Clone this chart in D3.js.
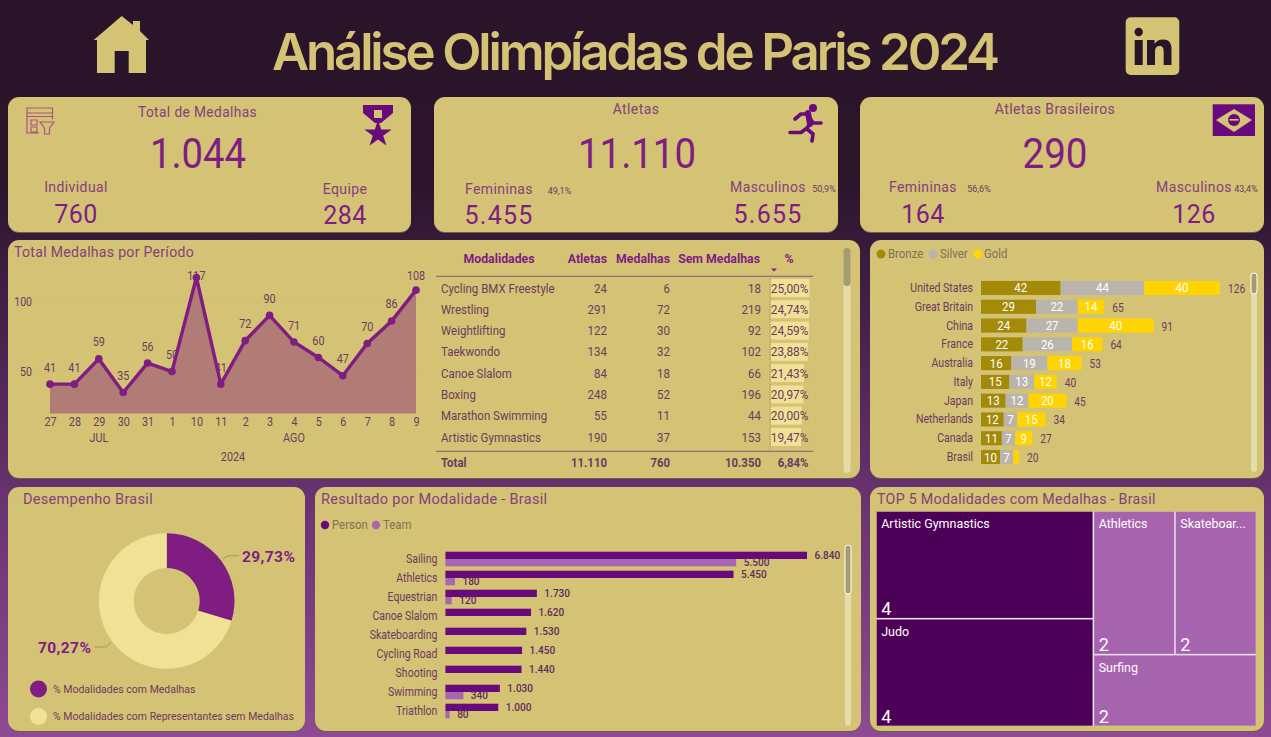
<!DOCTYPE html>
<html lang="pt-BR"><head><meta charset="utf-8">
<script src="https://cdnjs.cloudflare.com/ajax/libs/d3/7.8.5/d3.min.js"></script>
<style>html,body{margin:0;padding:0;overflow:hidden;background:#2a1429}svg{display:block}text{font-family:Roboto,sans-serif}</style>
</head><body><svg id="c" width="1271" height="737"></svg>
<script>
// ---- data ----
const dayLabels=["27","28","29","30","31","1","10","11","2","3","4","5","6","7","8","9"];
const dayMedals=[41,41,59,35,56,50,117,41,72,90,71,60,47,70,86,108];
const tableHeaders=["Modalidades","Atletas","Medalhas","Sem Medalhas","%"];
const sports=["Cycling BMX Freestyle","Wrestling","Weightlifting","Taekwondo","Canoe Slalom","Boxing","Marathon Swimming","Artistic Gymnastics"];
const sportAthletes=[24,291,122,134,84,248,55,190];
const sportMedals=[6,72,30,32,18,52,11,37];
const sportNoMedal=[18,219,92,102,66,196,44,153];
const sportPct=[25.00,24.74,24.59,23.88,21.43,20.97,20.00,19.47];
const tableTotal=["Total","11.110","760","10.350","6,84%"];
const countries=["United States","Great Britain","China","France","Australia","Italy","Japan","Netherlands","Canada","Brasil"];
const bronze=[42,29,24,22,16,15,13,12,11,10];
const silver=[44,22,27,26,19,13,12,7,7,7];
const gold=[40,14,40,16,18,12,20,15,9,3];
const medalKeys=["Bronze","Silver","Gold"];
const donutLabels=["% Modalidades com Medalhas","% Modalidades com Representantes sem Medalhas"];
const donutValues=[29.73,70.27];
const brSports=["Sailing","Athletics","Equestrian","Canoe Slalom","Skateboarding","Cycling Road","Shooting","Swimming","Triathlon"];
const brPerson=[6840,5450,1730,1620,1530,1450,1440,1030,1000];
const brTeam=[5500,180,120,0,0,0,0,340,80];
const topSports=["Artistic Gymnastics","Judo","Athletics","Skateboarding","Surfing"];
const topMedals=[4,4,2,2,2];

// ---- palette ----
const GOLD="#d4c275",PUR="#7f1d82",TITLE="#85407c",TXT="#6d3b5f",CREAM="#f1e196",DPUR="#690a7c",LPUR="#a866b0",DARK="#2a1429";
const br=d3.formatLocale({decimal:",",thousands:".",grouping:[3],currency:["",""]}).format(",d");
const svg=d3.select("#c");
const defs=svg.append("defs");
const bg=defs.append("linearGradient").attr("id","bg").attr("x1",0).attr("x2",0).attr("y1",0).attr("y2",1);
[[0,"#2a1429"],[.24,"#2b152b"],[.45,"#47224d"],[.68,"#693370"],[1,"#8e4b93"]].forEach(s=>bg.append("stop").attr("offset",s[0]).attr("stop-color",s[1]));
svg.append("rect").attr("width",1271).attr("height",737).attr("fill","url(#bg)");

function squeeze(sel,k){
  sel.each(function(){this.setAttribute("textLength",this.getComputedTextLength()*k);this.setAttribute("lengthAdjust","spacingAndGlyphs");});
}
function T(g,x,y,s,o={}){
  const e=g.append("text").attr("x",x).attr("y",y).text(s)
    .attr("font-size",o.size||12).attr("fill",o.fill||TXT).attr("text-anchor",o.a||"start")
    .attr("dominant-baseline","central").attr("font-weight",o.w||400);
  if(o.ls) e.attr("letter-spacing",o.ls);
  if(o.font) e.style("font-family",o.font);
  if(o.len) e.attr("textLength",o.len).attr("lengthAdjust",o.adj||"spacingAndGlyphs");
  if(o.sq) squeeze(e,o.sq);
  return e;
}
function card(x,y,w,h){
  svg.append("rect").attr("x",x).attr("y",y+1).attr("width",w).attr("height",h).attr("rx",11).attr("fill","#6f5f4a");
  svg.append("rect").attr("x",x).attr("y",y).attr("width",w).attr("height",h).attr("rx",11).attr("fill",GOLD);
}
[[8,97,403,135],[434,97,404,135],[860,97,404,135],[8,240,852,238],[870,240,394,238],[8,487,297,244],[315,487,546,244],[870,487,394,244]].forEach(c=>card(...c));

// ---- header ----
T(svg,272,51,"Análise Olimpíadas de Paris 2024",{size:51,w:600,fill:GOLD,font:"Inter",len:728,adj:"spacing"});
const home=svg.append("g").attr("fill",GOLD);
home.append("path").attr("d","M121.7 16L133 25V21H140V31L149 40L146 40V73H128.7V51H114.7V73H97V40L93.7 40Z");
svg.append("rect").attr("x",1125.7).attr("y",17.3).attr("width",53.6).attr("height",57.7).attr("rx",5).attr("fill",GOLD);
const inG=svg.append("g").attr("fill",DARK);
inG.append("circle").attr("cx",1138.7).attr("cy",32).attr("r",4.2);
inG.append("rect").attr("x",1134.7).attr("y",40).attr("width",8).attr("height",25);
inG.append("path").attr("d","M1147 40H1154.5V44C1156 41.5 1159 39.5 1163 39.5C1170 39.5 1171.5 44 1171.5 50V65H1163.7V52C1163.7 48.5 1163 46 1159.7 46C1156 46 1155 48.5 1155 52V65H1147Z");

// ---- KPI cards ----
const c=svg.append("g");
const K=(x,y,s,size,o={})=>T(c,x,y,s,Object.assign({size,a:"middle",fill:PUR,ls:.4},o));
K(197.5,112,"Total de Medalhas",14,{fill:TITLE,sq:.98});K(198,153,"1.044",42,{ls:0,len:96});
K(76,187,"Individual",14,{fill:TITLE});K(76,214,"760",25);K(345,189,"Equipe",14,{fill:TITLE});K(345,215,"284",25);
K(636,109,"Atletas",14,{fill:TITLE});K(637,153,"11.110",42,{ls:0,len:118});
K(499,189,"Femininas",14,{fill:TITLE});K(499,215,"5.455",25,{ls:1.2});K(768,187,"Masculinos",14,{fill:TITLE});K(768,214,"5.655",25,{ls:1.2});
K(559.5,190,"49,1%",9.5,{fill:TXT,ls:0,sq:.95});K(824,188,"50,9%",9.5,{fill:TXT,ls:0,sq:.95});
K(1055,109,"Atletas Brasileiros",14,{fill:TITLE});K(1055,153,"290",42,{ls:0,len:65});
K(923,187,"Femininas",14,{fill:TITLE});K(923,214,"164",25);K(1194,187,"Masculinos",14,{fill:TITLE});K(1194,214,"126",25);
K(979,188,"56,6%",9.5,{fill:TXT,ls:0,sq:.95});K(1246,188,"43,4%",9.5,{fill:TXT,ls:0,sq:.95});

// filter icon
const fi=svg.append("g").attr("fill","none").attr("stroke","#a8577c").attr("stroke-width",1.2);
fi.append("path").attr("d","M39 133H27V108H52.5V119M27 113H52.5M27 116.5H52.5M31 120H37V125H31ZM31 127H37V132H31Z");
fi.append("path").attr("d","M40 122H54L49.5 128V134H44.5V128Z");
// medal icon
const me=svg.append("g").attr("fill",DPUR);
me.append("path").attr("d","M363 105H393V113L381 123H375L363 113Z");
me.append("rect").attr("x",374).attr("y",110).attr("width",8).attr("height",8).attr("fill",GOLD);
me.append("path").attr("d",d3.symbol(d3.symbolStar,230)()).attr("transform","translate(378,134)");
// runner icon
const ru=svg.append("g").attr("fill","none").attr("stroke",DPUR).attr("stroke-width",3.6).attr("stroke-linecap","round").attr("stroke-linejoin","round");
ru.append("circle").attr("cx",813).attr("cy",108).attr("r",4).attr("fill",DPUR).attr("stroke","none");
ru.append("path").attr("d","M795 119L801 114H808L810 122L807 129L813 134L812 141");
ru.append("path").attr("d","M808 115L813 123H821");
ru.append("path").attr("d","M807 128L801 132.5H790");
ru.append("path").attr("d","M808 113L810 124").attr("stroke-width",6);
// flag icon
const fl=svg.append("g");
fl.append("rect").attr("x",1212.7).attr("y",104.3).attr("width",42.3).attr("height",31.7).attr("fill",DPUR);
fl.append("path").attr("d","M1216 120L1234 109L1252 120L1234 132Z").attr("fill",GOLD);
fl.append("circle").attr("cx",1234).attr("cy",120).attr("r",6).attr("fill",DPUR);
fl.append("rect").attr("x",1229.5).attr("y",119).attr("width",9).attr("height",1.6).attr("fill",GOLD);

// titles
T(svg,14,252,"Total Medalhas por Período",{size:14.5,fill:TITLE,ls:.3,sq:.97});
T(svg,23,499,"Desempenho Brasil",{size:14.5,fill:TITLE,ls:.3});
T(svg,321,499,"Resultado por Modalidade - Brasil",{size:14.5,fill:TITLE,ls:.3});
T(svg,877,499,"TOP 5 Modalidades com Medalhas - Brasil",{size:14.5,fill:TITLE,ls:.3,sq:.98});

// ---- line chart ----
const lx=d3.scalePoint().domain(dayLabels).range([50,416]);
const ly=d3.scaleLinear().domain([20,117]).range([413.6,277.5]);
const lg=svg.append("g");
const gridY=lg.append("g").attr("transform","translate(36,0)").call(d3.axisLeft(ly).tickValues([50,100]).tickSize(-384).tickPadding(4));
gridY.select(".domain").remove();
gridY.selectAll("line").attr("stroke","#c9b56e").attr("stroke-dasharray","1 3");
gridY.selectAll("text").attr("fill",TXT).attr("font-size",12);
squeeze(gridY.selectAll("text"),.88);
const xa=lg.append("g").attr("transform","translate(0,414)").call(d3.axisBottom(lx).tickSize(0).tickPadding(3));
xa.select(".domain").remove();
xa.selectAll("text").attr("fill",TXT).attr("font-size",12);
squeeze(xa.selectAll("text"),.9);
T(lg,99,438,"JUL",{a:"middle",sq:.9});T(lg,294,438,"AGO",{a:"middle",sq:.9});T(lg,233,457,"2024",{a:"middle",sq:.9});
const dl=lg.selectAll(".dl").data(dayMedals).join("text").attr("class","dl")
  .attr("x",(d,i)=>lx(dayLabels[i])).attr("y",d=>Math.max(276,ly(d)-16.5)).text(d=>d)
  .attr("text-anchor","middle").attr("dominant-baseline","central").attr("font-size",12).attr("fill",TXT);
squeeze(dl,.9);
const area=d3.area().x((d,i)=>lx(dayLabels[i])).y0(ly(20)).y1(d=>ly(d));
const line=d3.line().x((d,i)=>lx(dayLabels[i])).y(d=>ly(d));
lg.append("path").attr("d",area(dayMedals)).attr("fill","#b27c76");
lg.append("path").attr("d",line(dayMedals)).attr("fill","none").attr("stroke",PUR).attr("stroke-width",3.4);
lg.selectAll(".dp").data(dayMedals).join("circle").attr("class","dp").attr("cx",(d,i)=>lx(dayLabels[i])).attr("cy",d=>ly(d)).attr("r",3.8).attr("fill",PUR);

// ---- table ----
const tb=svg.append("g");
const colRight=[0,607,670,761,808.5];
const rowY=d3.scalePoint().domain(sports).range([288,437]);
const pctW=d3.scaleLinear().domain([0,25]).range([0,38.5]);
const H={w:700,fill:PUR,size:12.3};
T(tb,499,258.7,tableHeaders[0],{a:"middle",...H});
T(tb,607,258.7,tableHeaders[1],{a:"end",...H});
T(tb,670,258.7,tableHeaders[2],{a:"end",...H});
T(tb,760,258.7,tableHeaders[3],{a:"end",...H});
T(tb,789,258.7,tableHeaders[4],{a:"middle",...H});
tb.append("path").attr("d","M771 268.5H777L774 271.5Z").attr("fill",PUR);
tb.append("line").attr("x1",436).attr("x2",813).attr("y1",276.3).attr("y2",276.3).attr("stroke","#8f5476");
tb.append("line").attr("x1",436).attr("x2",813).attr("y1",451.3).attr("y2",451.3).attr("stroke","#8f5476");
tb.append("line").attr("x1",770).attr("x2",770).attr("y1",279).attr("y2",450).attr("stroke","#9c8a5c").attr("stroke-dasharray","1 1.5");
sports.forEach((s,i)=>{
  const y=rowY(s);
  tb.append("rect").attr("x",771).attr("y",y-9).attr("width",pctW(sportPct[i])).attr("height",18).attr("fill",CREAM);
  T(tb,441,y,s,{size:12.5,sq:.92});
  T(tb,607,y,sportAthletes[i],{size:12.5,a:"end",sq:.92});
  T(tb,670,y,sportMedals[i],{size:12.5,a:"end",sq:.92});
  T(tb,761,y,sportNoMedal[i],{size:12.5,a:"end",sq:.92});
  T(tb,808.5,y,sportPct[i].toFixed(2).replace(".",",")+"%",{size:12.5,a:"end",sq:.95});
});
tableTotal.forEach((s,i)=>T(tb,i?colRight[i]:441,462.5,s,{size:12,w:700,a:i?"end":"start",sq:.95}));

// scrollbars
function scroll(x,y0,y1,t1,w,outline){
  svg.append("rect").attr("x",x).attr("y",y0).attr("width",w).attr("height",y1-y0).attr("rx",w/2).attr("fill","#e5dca8");
  svg.append("rect").attr("x",x).attr("y",y0).attr("width",w).attr("height",t1-y0).attr("rx",w/2).attr("fill","#a39c72").attr("stroke",outline?"#fff":"none");
}
scroll(843.5,248,473,286,7,false);scroll(1251,273,472,294,6,true);scroll(845,545,726,594,6,true);

// ---- medal stack ----
const mg=svg.append("g");
const my=d3.scaleBand().domain(countries).range([278.6,466.4]).paddingInner(.25).paddingOuter(.125);
const mx=d3.scaleLinear().domain([0,126]).range([981,1220]);
const mColor=d3.scaleOrdinal().domain(medalKeys).range(["#a38a08","#b9b5ad","#ffd400"]);
const rows=countries.map((n,i)=>({n,Bronze:bronze[i],Silver:silver[i],Gold:gold[i]}));
const ma=mg.append("g").attr("transform","translate(981,0)").call(d3.axisLeft(my).tickSize(0).tickPadding(8));
ma.select(".domain").remove();
ma.selectAll("text").attr("fill",TXT).attr("font-size",12.4);
squeeze(ma.selectAll("text"),.85);
d3.stack().keys(medalKeys)(rows).forEach(layer=>{
  layer.forEach(d=>{
    const v=d[1]-d[0],y=my(d.data.n);
    mg.append("rect").attr("x",mx(d[0])).attr("y",y).attr("width",mx(d[1])-mx(d[0])).attr("height",my.bandwidth()).attr("fill",mColor(layer.key));
    if(v>=7) T(mg,(mx(d[0])+mx(d[1]))/2,y+my.bandwidth()/2,v,{a:"middle",fill:"#fff",size:12.5,sq:.92});
  });
});
rows.forEach(r=>T(mg,mx(r.Bronze+r.Silver+r.Gold)+8,my(r.n)+my.bandwidth()/2+.5,r.Bronze+r.Silver+r.Gold,{size:12.4,sq:.82}));
[[881,"Bronze",889],[933,"Silver",941],[978,"Gold",985]].forEach(l=>{
  mg.append("circle").attr("cx",l[0]).attr("cy",254).attr("r",4.5).attr("fill",mColor(l[1]));
  T(mg,l[2]-1,254,l[1],{size:12,fill:"#82704f",sq:.95});
});

// ---- donut ----
const dg=svg.append("g").attr("transform","translate(166.7,601)");
const pie=d3.pie().sort(null);
const arc=d3.arc().innerRadius(33).outerRadius(67.8);
const dCol=[PUR,CREAM];
dg.selectAll("path").data(pie(donutValues)).join("path").attr("d",arc).attr("fill",(d,i)=>dCol[i]);
svg.append("path").attr("d","M223 559L228 555.7H239M111 642L106 647H95").attr("fill","none").attr("stroke","#a3935c");
T(svg,242,557,"29,73%",{size:15.5,w:700,fill:PUR,ls:.4});
T(svg,38,648,"70,27%",{size:15.5,w:700,fill:PUR,ls:.4});
donutLabels.forEach((s,i)=>{
  svg.append("circle").attr("cx",38.5).attr("cy",689+i*27.5).attr("r",8.5).attr("fill",dCol[i]);
  T(svg,53,689+i*27.5,s,{size:10.5});
});

// ---- Brazil bars ----
const rg=svg.append("g");
const ry=d3.scaleBand().domain(brSports).range([549.5,720.5]);
const rx=d3.scaleLinear().domain([0,6840]).range([445.4,807]);
const ra=rg.append("g").attr("transform","translate(445.4,0)").call(d3.axisLeft(ry).tickSize(0).tickPadding(8));
ra.select(".domain").remove();
ra.selectAll("text").attr("fill",TXT).attr("font-size",12.4);
squeeze(ra.selectAll("text"),.85);
brSports.forEach((s,i)=>{
  const cy=ry(s)+ry.bandwidth()/2;
  rg.append("rect").attr("x",rx(0)).attr("y",cy-7.3).attr("width",rx(brPerson[i])-rx(0)).attr("height",7.3).attr("fill",DPUR);
  T(rg,rx(brPerson[i])+7.5,cy-3.6,br(brPerson[i]),{size:11.6,w:500,fill:"#5d2c5c",sq:.87});
  if(brTeam[i]){
    rg.append("rect").attr("x",rx(0)).attr("y",cy).attr("width",rx(brTeam[i])-rx(0)).attr("height",7.3).attr("fill",LPUR);
    T(rg,rx(brTeam[i])+7.5,cy+2.6,br(brTeam[i]),{size:11.6,w:500,fill:"#5d2c5c",sq:.87});
  }
});
[[325,"Person",DPUR,332],[376,"Team",LPUR,383]].forEach(l=>{
  rg.append("circle").attr("cx",l[0]).attr("cy",525).attr("r",4.2).attr("fill",l[2]);
  T(rg,l[3],525,l[1],{size:12,fill:"#82704f",sq:.95});
});

// ---- treemap ----
const tg=svg.append("g").attr("transform","translate(876.7,511.7)");
const root=d3.hierarchy({children:topSports.map((n,i)=>({n,v:topMedals[i]}))}).sum(d=>d.v||0);
d3.treemap().size([379,214]).paddingInner(1.6)(root);
tg.append("rect").attr("width",379).attr("height",214).attr("fill","#e8dcec");
root.leaves().forEach(l=>{
  const dark=l.data.v===4;
  tg.append("rect").attr("x",l.x0).attr("y",l.y0).attr("width",l.x1-l.x0).attr("height",l.y1-l.y0).attr("fill",dark?"#4d0057":"#a664ae");
  const name=l.data.n==="Skateboarding"?"Skateboar...":l.data.n;
  T(tg,l.x0+4.5,l.y0+12,name,{size:13,fill:"#fff",sq:.96});
  T(tg,l.x0+4.5,l.y1-9,l.data.v,{size:18,fill:"#fff"});
});
</script></body></html>
